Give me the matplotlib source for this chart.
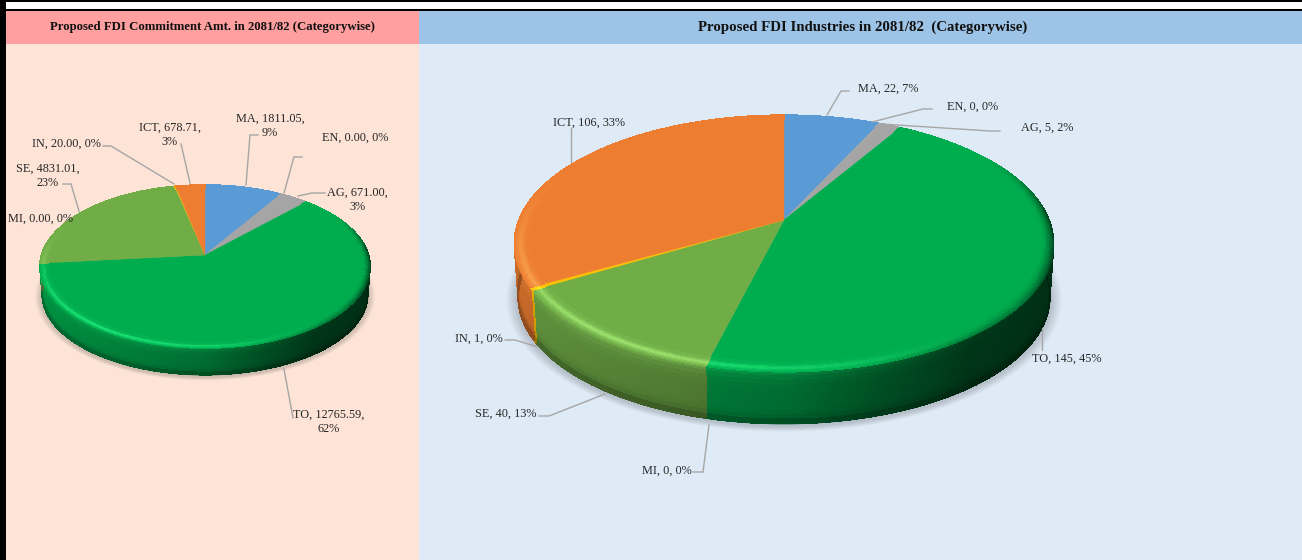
import numpy as np
import matplotlib
matplotlib.use('Agg')
import matplotlib.pyplot as plt
from matplotlib.collections import LineCollection, PolyCollection
from matplotlib.colors import to_rgb
from matplotlib.patches import Ellipse, Polygon, Rectangle

plt.rcParams['font.family'] = ['Liberation Serif', 'DejaVu Serif']

categories = ['MA', 'EN', 'AG', 'TO', 'MI', 'SE', 'IN', 'ICT']
commitment_amt = [1811.05, 0.00, 671.00, 12765.59, 0.00, 4831.01, 20.00, 678.71]
commitment_pct = [9, 0, 3, 62, 0, 23, 0, 3]
industries = [22, 0, 5, 145, 0, 40, 1, 106]
industries_pct = [7, 0, 2, 45, 0, 13, 0, 33]
title_left = 'Proposed FDI Commitment Amt. in 2081/82 (Categorywise)'
title_right = 'Proposed FDI Industries in 2081/82  (Categorywise)'

colors = ['#5B9BD5', '#C00000', '#A5A5A5', '#00AD4E', '#4472C4', '#70AD47', '#FFC000', '#ED7D31']

# label position per category, then leader line points
left_labels = {
    'MA': ((270, 125), [(258, 135), (250, 135), (246, 185)]),
    'EN': ((355, 137), [(302, 157), (294, 157), (284, 193)]),
    'AG': ((357, 199), [(325, 193), (312, 193), (298, 196)]),
    'TO': ((329, 421), [(293, 418), (284, 369)]),
    'MI': ((41, 218), []),
    'SE': ((48, 175), [(63, 184), (71, 184), (79, 211)]),
    'IN': ((66, 143), [(103, 146), (111, 146), (174, 184)]),
    'ICT': ((170, 134), [(181, 144), (190, 183)]),
}
right_labels = {
    'MA': ((888, 88), [(849, 91), (841, 91), (827, 115)]),
    'EN': ((973, 106), [(932, 109), (923, 109), (872, 122)]),
    'AG': ((1047, 127), [(1000, 131), (990, 131), (882, 124)]),
    'TO': ((1067, 358), [(1042, 328), (1042, 350)]),
    'MI': ((667, 470), [(693, 472), (703, 472), (709, 425)]),
    'SE': ((506, 413), [(539, 416), (549, 416), (605, 394)]),
    'IN': ((479, 338), [(505, 340), (515, 340), (538, 347)]),
    'ICT': ((589, 122), [(570.5, 128), (570.5, 162)]),
}
wrapped = ('MA', 'AG', 'TO', 'SE', 'ICT')


def side_shade(t):
    return np.interp(t, [-1, -0.3, 0, 0.3, 0.6, 1], [0.85, 0.7, 0.62, 0.45, 0.3, 0.26])


def mix(col, other, amt):
    return tuple(c * (1 - amt) + o * amt for c, o in zip(col, other))


def draw_pie(ax, values, cx, cy, S, A, k, depth, edge_w):
    def project(theta, r=1.0, drop=0.0, scale=1.0):
        u, v = r * np.sin(theta), r * np.cos(theta)
        d = 1 + k * v
        return cx + scale * S * u / d, cy - scale * A * v / d + drop

    # soft shadow under the pie
    x0, top = project(0.0)
    _, bot = project(np.pi)
    ell_cy = (top + bot) / 2
    rx = S / np.sqrt(1 - k * k)
    ry = (bot - top) / 2
    for i in range(10):
        grow = 1.03 - i * 0.004
        ax.add_patch(Ellipse((cx, ell_cy + depth + 2), 2 * rx * grow, 2 * ry * grow,
                             fc='#3a3a3a', ec='none', alpha=0.022, zorder=2))

    total = sum(values)
    side_polys, side_cols = [], []
    rim_polys, rim_cols = [], []
    foot_segs, foot_cols = [], []
    start = 0.0
    tops = []
    nz = 12
    nr = 8
    for val, col in zip(values, colors):
        sweep = val / total * 2 * np.pi
        if val == 0:
            continue
        base = to_rgb(col)
        glow = tuple(min(c * 1.2 + 0.14, 1) for c in base)
        n = max(int(sweep / 0.012), 2)
        th = np.linspace(start, start + sweep, n + 1)
        xs, ys = project(th)
        tops.append((np.r_[cx, xs], np.r_[cy, ys], col))
        for a, b in zip(th[:-1], th[1:]):
            mid = (a + b) / 2
            u, v = np.sin(mid), np.cos(mid)
            lit = np.clip(-(0.55 * u + 0.83 * v), 0, 1) ** 2
            dark = np.clip((u - 0.55) / 0.45, 0, 1) * np.clip((0.55 - v) / 0.5, 0, 1)
            dark = max(dark, 0.5 * np.clip((u - 0.2) / 0.5, 0, 1) * np.clip(-v / 0.4, 0, 1))
            # outer wall, split in layers so the dark foot shows
            if v < 0.45:
                for j in range(nz):
                    z0, z1 = j / nz, (j + 1) / nz
                    zm = (z0 + z1) / 2
                    m = side_shade(u) * (1 + 0.1 * (1 - zm) ** 6) * (1 - 0.4 * zm ** 10)
                    c = tuple(min(x * m, 1) for x in base)
                    c = mix(c, glow, 0.3 * lit * (1 - zm) ** 8)
                    s0, s1 = 1 - 0.014 * z0, 1 - 0.014 * z1
                    ax0, ay0 = project(a, drop=depth * z0, scale=s0)
                    bx0, by0 = project(b, drop=depth * z0, scale=s0)
                    ax1, ay1 = project(a, drop=depth * z1, scale=s1)
                    bx1, by1 = project(b, drop=depth * z1, scale=s1)
                    side_polys.append([(ax0, ay0), (bx0, by0), (bx1, by1), (ax1, ay1)])
                    side_cols.append(c)
                foot_segs.append([(ax1, ay1), (bx1, by1)])
                foot_cols.append(c)
            # soft bevel on the top face
            for j in range(nr):
                r0, r1 = 1 - edge_w * (j + 1) / nr, 1 - edge_w * j / nr
                f = 1 - j / nr
                c = mix(base, glow, 0.85 * lit * (1 - abs(f - 0.55) / 0.55) ** 1.5)
                c = mix(c, (0, 0, 0), 0.6 * dark * f ** 2)
                ax0, ay0 = project(a, r0)
                bx0, by0 = project(b, r0)
                ax1, ay1 = project(a, r1)
                bx1, by1 = project(b, r1)
                rim_polys.append([(ax0, ay0), (bx0, by0), (bx1, by1), (ax1, ay1)])
                rim_cols.append(c)
        start += sweep

    ax.add_collection(PolyCollection(side_polys, facecolors=side_cols, edgecolors=side_cols,
                                     linewidths=0.5, antialiaseds=False, zorder=3))
    ax.add_collection(LineCollection(foot_segs, colors=foot_cols, linewidths=1.0, zorder=3))
    for xs, ys, col in tops:
        ax.add_patch(Polygon(np.c_[xs, ys], closed=True, fc=col, ec=col, lw=0.3, zorder=4))
    ax.add_collection(PolyCollection(rim_polys, facecolors=rim_cols, edgecolors=rim_cols,
                                     linewidths=0.5, antialiaseds=False, zorder=5))


def draw_labels(ax, layout, values, pct, fmt, wrap):
    for cat, val, p in zip(categories, values, pct):
        pos, line = layout[cat]
        sep = ',\n' if cat in wrap else ', '
        txt = f'{cat}, {fmt.format(val)}{sep}{p}%'
        ax.text(pos[0], pos[1] + 0.8, txt, ha='center', va='center', fontsize=8.8,
                color='#262626', linespacing=1.2, zorder=7)
        if line:
            xs, ys = zip(*line)
            ax.plot(xs, ys, color='#A6A6A6', lw=1.0, zorder=6, solid_joinstyle='miter')


fig = plt.figure(figsize=(13.02, 5.6), dpi=100)
ax = fig.add_axes([0, 0, 1, 1])
ax.set_xlim(0, 1302)
ax.set_ylim(560, 0)
ax.axis('off')

# frame and panels
ax.add_patch(Rectangle((0, 0), 1302, 560, fc='white', ec='none', zorder=0))
ax.add_patch(Rectangle((0, 0), 1302, 2, fc='black', ec='none', zorder=1))
ax.add_patch(Rectangle((0, 9), 1302, 2, fc='black', ec='none', zorder=1))
ax.add_patch(Rectangle((0, 0), 5.5, 560, fc='black', ec='none', zorder=1))
ax.add_patch(Rectangle((5.5, 11), 413.5, 33, fc='#FF9F9F', ec='none', zorder=1))
ax.add_patch(Rectangle((5.5, 44), 413.5, 516, fc='#FDE4D7', ec='none', zorder=1))
ax.add_patch(Rectangle((419, 11), 883, 33, fc='#9DC3E6', ec='none', zorder=1))
ax.add_patch(Rectangle((419, 44), 883, 516, fc='#DEEBF7', ec='none', zorder=1))

ax.text(212.5, 27, title_left, ha='center', va='center', fontsize=9.15, fontweight='bold', color='#111111')
ax.text(863, 27, title_right, ha='center', va='center', fontsize=10.75, fontweight='bold', color='#111111')

draw_pie(ax, commitment_amt, 205, 255, 163.4, 79.9, 0.141, 28, 0.05)
draw_pie(ax, industries, 784, 220, 265, 124, 0.183, 54, 0.05)

draw_labels(ax, left_labels, commitment_amt, commitment_pct, '{:.2f}', wrapped)
draw_labels(ax, right_labels, industries, industries_pct, '{}', ())

fig.savefig('out.png', dpi=100)
